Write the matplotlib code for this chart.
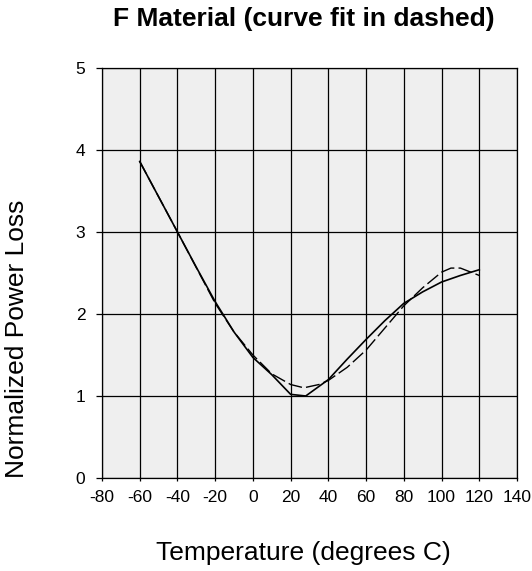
import numpy as np
import matplotlib.pyplot as plt

plt.rcParams['font.family'] = ['Liberation Sans', 'DejaVu Sans']
plt.rcParams['axes.unicode_minus'] = False

# measured curve (solid)
temp_meas = [-60, -50, -40, -30, -20, -10, 0, 10, 20, 28, 40, 50, 60, 70, 80, 90, 100, 110, 120]
loss_meas = [3.86, 3.43, 3.0, 2.57, 2.15, 1.78, 1.47, 1.26, 1.02, 1.0, 1.2, 1.45, 1.69, 1.92, 2.13, 2.27, 2.39, 2.47, 2.54]

# curve fit (dashed)
temp_fit = [-60, -40, -20, -10, 0, 10, 20, 27, 35, 40, 50, 60, 70, 80, 90, 100, 105, 110, 120]
loss_fit = [3.86, 3.0, 2.13, 1.78, 1.5, 1.27, 1.14, 1.1, 1.14, 1.19, 1.35, 1.56, 1.83, 2.1, 2.32, 2.51, 2.56, 2.56, 2.47]

xticks = list(range(-80, 141, 20))
yticks = [0, 1, 2, 3, 4, 5]

W, H = 532, 571
fig = plt.figure(figsize=(W / 100, H / 100), dpi=100)
ax = fig.add_axes([102 / W, 1 - 478 / H, 415 / W, 410 / H])
ax.set_facecolor('#efefef')

ax.plot(temp_meas, loss_meas, color='black', linewidth=1.2)
ax.plot(temp_fit, loss_fit, color='black', linewidth=1.0, dashes=(10, 3))

ax.set_xlim(-80, 140)
ax.set_ylim(0, 5)
ax.set_xticks(xticks)
ax.set_yticks(yticks)
ax.grid(True, color='black', linewidth=0.9)
ax.set_axisbelow(True)
for s in ax.spines.values():
    s.set_linewidth(0.9)
ax.tick_params(axis='y', direction='out', length=4, width=0.9, labelsize=12.5, pad=8)
ax.tick_params(axis='x', direction='out', length=2, width=0.9, labelsize=12.5, pad=7)

fig.text(304 / W, 1 - 19 / H, 'F Material (curve fit in dashed)', fontsize=19,
         fontweight='bold', ha='center', va='center')
fig.text(303.5 / W, 1 - 553 / H, 'Temperature (degrees C)', fontsize=19,
         ha='center', va='center')
fig.text(17 / W, 1 - 339 / H, 'Normalized Power Loss', fontsize=19,
         rotation=90, ha='center', va='center')

fig.savefig('out.png', dpi=100)
